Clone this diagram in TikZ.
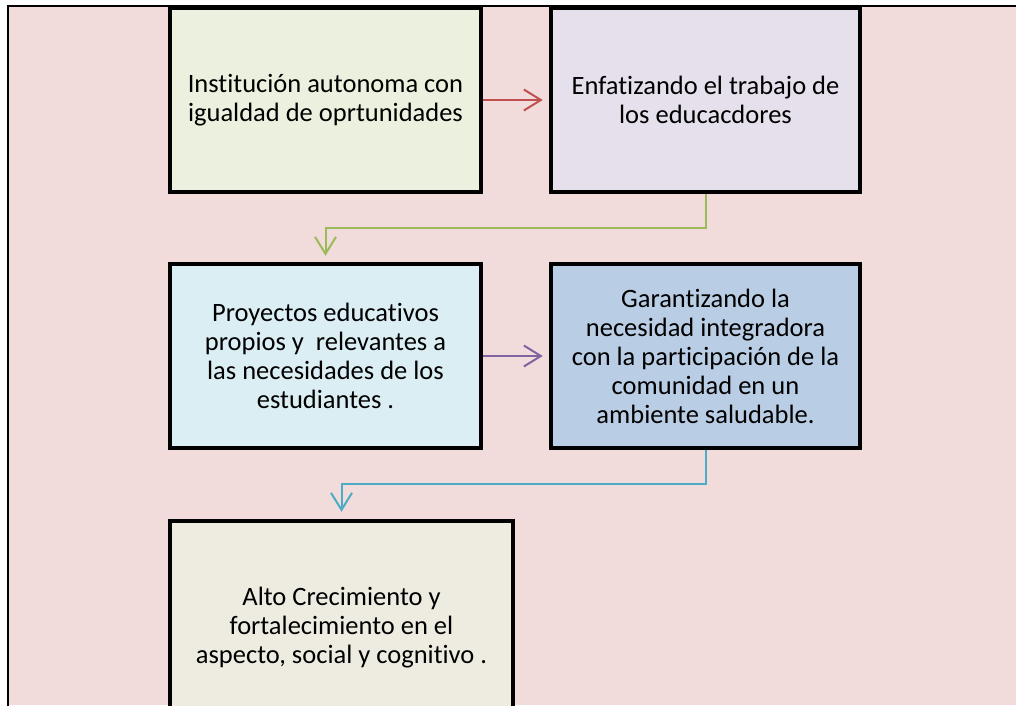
\documentclass[tikz,border=0pt]{standalone}
\usepackage{fontspec}
\setmainfont{Carlito}[Ligatures=NoCommon]
\usetikzlibrary{arrows.meta}
\definecolor{bgpink}{HTML}{F2DCDB}
\definecolor{fillA}{HTML}{EBF1DE}
\definecolor{fillB}{HTML}{E5E0EC}
\definecolor{fillC}{HTML}{DAEEF3}
\definecolor{fillD}{HTML}{B9CDE5}
\definecolor{fillE}{HTML}{EEECE1}
\definecolor{cRed}{HTML}{C0504D}
\definecolor{cGreen}{HTML}{9BBB59}
\definecolor{cPurple}{HTML}{8064A2}
\definecolor{cCyan}{HTML}{4BACC6}
\tikzset{
  box/.style={draw=black, line width=4.5pt, rectangle, align=center,
    font=\fontsize{26.5}{29}\selectfont, inner sep=0pt},
  conn/.style={line width=2pt, -{Straight Barb[length=17pt,width=21pt,line width=2pt]}}
}
\begin{document}
\begin{tikzpicture}[x=1pt,y=-1pt]
\useasboundingbox (0,0) rectangle (1016,705);
\begin{scope}
\clip (0,0) rectangle (1016,705);
\fill[bgpink] (8,6) rectangle (1016,705);
\draw[line width=1.5pt] (8,720) -- (8,6) -- (1030,6);
\node[box, fill=fillA, minimum width=311pt, minimum height=184pt] (b1) at (325.5,100)
  {Institución autonoma con\\igualdad de oprtunidades};
\node[box, fill=fillB, minimum width=309pt, minimum height=184pt] (b2) at (705.5,100)
  {Enfatizando el trabajo de\\los educacdores};
\node[box, fill=fillC, minimum width=311pt, minimum height=184pt] (b3) at (325.5,356)
  {Proyectos educativos\\propios y~ relevantes a\\las necesidades de los\\estudiantes .};
\node[box, fill=fillD, minimum width=309pt, minimum height=184pt] (b4) at (705.5,356)
  {Garantizando la\\necesidad integradora\\con la participación de la\\comunidad en un\\ambiente saludable.};
\node[box, fill=fillE, minimum width=343pt, minimum height=214pt] (b5) at (341.5,628)
  {Alto Crecimiento y\\fortalecimiento en el\\aspecto, social y cognitivo .};
\draw[conn, cRed, shorten >=6pt] (b1.east) -- (b2.west);
\draw[conn, cPurple, shorten >=6pt] (b3.east) -- (b4.west);
\draw[conn, cGreen, shorten >=6pt] (b2.south) -- ++(0,34) -| (b3.north);
\draw[conn, cCyan, shorten >=7pt] (b4.south) -- ++(0,34) -| (b5.north);
\end{scope}
\end{tikzpicture}
\end{document}
